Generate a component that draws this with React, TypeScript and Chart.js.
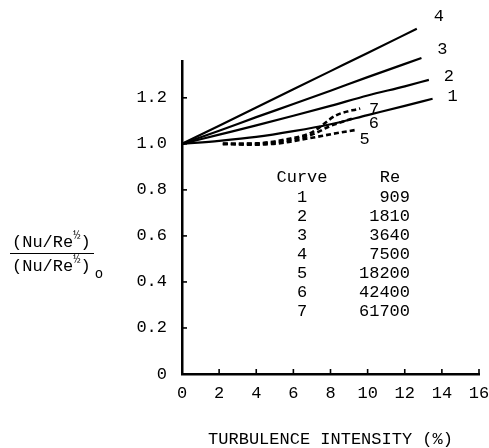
import { useEffect, useRef } from 'react';
import { Chart, registerables } from 'chart.js';

Chart.register(...registerables);

// Axis ticks
const X_TICKS = [0, 2, 4, 6, 8, 10, 12, 14, 16];
const Y_TICKS = [0, 0.2, 0.4, 0.6, 0.8, 1.0, 1.2];

// Curve key (table)
const CURVE_IDS = ['1', '2', '3', '4', '5', '6', '7'];
const RE_VALUES = ['909', '1810', '3640', '7500', '18200', '42400', '61700'];

// [turbulence intensity %, (Nu/Re^1/2)/(Nu/Re^1/2)o]
const CURVE_1 = [[0, 1.0], [2, 1.013], [4, 1.03], [6, 1.055], [8, 1.085], [10, 1.125], [12, 1.165], [13.5, 1.196]];
const CURVE_2 = [[0, 1.0], [2, 1.04], [4, 1.08], [6, 1.122], [8, 1.165], [10, 1.21], [12, 1.25], [13.3, 1.278]];
const CURVE_3 = [[0, 1.0], [2, 1.057], [4, 1.116], [6, 1.173], [8, 1.231], [10, 1.29], [12.9, 1.373]];
const CURVE_4 = [[0, 1.0], [2, 1.079], [4, 1.158], [6, 1.237], [8, 1.316], [10, 1.395], [12.65, 1.5]];
const CURVE_5 = [[2.2, 1.0], [3.8, 0.996], [5.3, 1.003], [6.9, 1.025], [8.3, 1.046], [9.4, 1.061]];
const CURVE_6 = [[2.2, 1.0], [4, 1.0], [5.5, 1.012], [7, 1.04], [8.0, 1.078], [9.2, 1.11]];
const CURVE_7 = [[2.2, 1.0], [4, 1.002], [5.5, 1.018], [7, 1.05], [8.3, 1.124], [9.6, 1.154]];

const FONT = '"Liberation Mono", "Courier New", monospace';

const toPoints = (pts: number[][]) => pts.map(([x, y]) => ({ x, y }));

// Offsets of each curve number from the curve's last point
const END_LABEL_OFFSETS: Record<string, [number, number]> = {
  '1': [20, -2],
  '2': [20, -3],
  '3': [21, -9],
  '4': [22, -12],
  '5': [8, 10],
  '6': [21, 5],
  '7': [14, 1],
};

const decorations = {
  id: 'decorations',
  afterDatasetsDraw(chart: any) {
    const { ctx } = chart;
    const xs = chart.scales.x;
    const ys = chart.scales.y;
    ctx.save();
    ctx.strokeStyle = '#000';
    ctx.lineWidth = 1.6;
    // inward tick marks
    xs.ticks.forEach((t: any) => {
      if (t.value === 0) return;
      const px = xs.getPixelForValue(t.value);
      ctx.beginPath();
      ctx.moveTo(px, ys.bottom);
      ctx.lineTo(px, ys.bottom - 5);
      ctx.stroke();
    });
    ys.ticks.forEach((t: any) => {
      if (t.value === 0) return;
      const py = ys.getPixelForValue(t.value);
      ctx.beginPath();
      ctx.moveTo(xs.left, py);
      ctx.lineTo(xs.left + 5, py);
      ctx.stroke();
    });
    // curve numbers at the line ends
    ctx.fillStyle = '#000';
    ctx.font = `17px ${FONT}`;
    ctx.textAlign = 'center';
    ctx.textBaseline = 'middle';
    chart.data.datasets.forEach((ds: any, i: number) => {
      const meta = chart.getDatasetMeta(i);
      const last = meta.data[meta.data.length - 1];
      const [dx, dy] = END_LABEL_OFFSETS[ds.label];
      ctx.fillText(ds.label, last.x + dx, last.y + dy);
    });
    ctx.restore();
  },
};

export default function App() {
  const canvasRef = useRef<HTMLCanvasElement | null>(null);

  useEffect(() => {
    if (!canvasRef.current) return;
    Chart.defaults.font.family = FONT;
    Chart.defaults.color = '#000';

    const solid = (label: string, pts: number[][]) => ({
      label,
      data: toPoints(pts),
      borderColor: '#000',
      borderWidth: 2.2,
      pointRadius: 0,
      cubicInterpolationMode: 'monotone' as const,
      clip: false as any,
    });
    const dashed = (label: string, pts: number[][]) => ({
      ...solid(label, pts),
      borderWidth: 2.6,
      borderDash: [5, 3],
    });

    const chart = new Chart(canvasRef.current, {
      type: 'line',
      data: {
        datasets: [
          solid('1', CURVE_1),
          solid('2', CURVE_2),
          solid('3', CURVE_3),
          solid('4', CURVE_4),
          dashed('5', CURVE_5),
          dashed('6', CURVE_6),
          dashed('7', CURVE_7),
        ],
      },
      options: {
        animation: false,
        responsive: false,
        maintainAspectRatio: false,
        layout: { padding: { top: 61, right: 0, left: 0, bottom: 0 } },
        plugins: { legend: { display: false }, tooltip: { enabled: false } },
        scales: {
          x: {
            type: 'linear',
            min: 0,
            max: 16,
            afterFit(s: any) {
              s.height = 74;
              s.paddingLeft = 0;
              s.paddingRight = 10;
            },
            afterBuildTicks(s: any) {
              s.ticks = X_TICKS.map((v) => ({ value: v }));
            },
            grid: { display: true, drawOnChartArea: false, drawTicks: false },
            border: { color: '#000', width: 2.5 },
            ticks: {
              color: '#000',
              padding: 9,
              font: { size: 17 },
              maxRotation: 0,
              autoSkip: false,
              callback: (v: any) => String(v),
            },
            title: {
              display: true,
              text: 'TURBULENCE INTENSITY (%)',
              color: '#000',
              font: { size: 17 },
              padding: { top: 0, bottom: -2 },
            },
          },
          y: {
            type: 'linear',
            min: 0,
            max: 1.36,
            afterFit(s: any) {
              s.width = 182;
            },
            afterBuildTicks(s: any) {
              s.ticks = Y_TICKS.map((v) => ({ value: v }));
            },
            grid: { display: true, drawOnChartArea: false, drawTicks: false },
            border: { color: '#000', width: 2.5 },
            ticks: {
              color: '#000',
              padding: 15,
              font: { size: 17 },
              autoSkip: false,
              callback: (v: any) => (v === 0 ? '0' : Number(v).toFixed(1)),
            },
          },
        },
      },
      plugins: [decorations],
    });
    return () => chart.destroy();
  }, []);

  const text: React.CSSProperties = {
    position: 'absolute',
    fontFamily: FONT,
    fontSize: 17,
    lineHeight: '19px',
    color: '#000',
    whiteSpace: 'nowrap',
  };
  const sup: React.CSSProperties = { fontSize: 12, position: 'relative', top: -8 };
  const sub: React.CSSProperties = { fontSize: 14, position: 'relative', top: 7, marginLeft: 4 };

  return (
    <div style={{ position: 'fixed', left: 0, top: 0, width: 489, height: 448, background: '#fff' }}>
      <canvas ref={canvasRef} width={489} height={448} style={{ display: 'block' }} />

      {/* y-axis quantity, written as a fraction */}
      <div style={{ ...text, left: 12, top: 233 }}>
        (Nu/Re<span style={sup}>½</span>)
      </div>
      <div style={{ position: 'absolute', left: 10, top: 253, width: 84, height: 0, borderTop: '1.5px solid #000' }} />
      <div style={{ ...text, left: 12, top: 257 }}>
        (Nu/Re<span style={sup}>½</span>)<span style={sub}>o</span>
      </div>

      {/* curve key */}
      <div style={{ ...text, left: 262, width: 80, textAlign: 'center', top: 168 }}>Curve</div>
      <div style={{ ...text, left: 370, width: 40, textAlign: 'center', top: 168 }}>Re</div>
      {CURVE_IDS.map((id, i) => (
        <div key={id}>
          <div style={{ ...text, left: 282, width: 40, textAlign: 'center', top: 188 + i * 19 }}>{id}</div>
          <div style={{ ...text, left: 330, width: 80, textAlign: 'right', top: 188 + i * 19 }}>{RE_VALUES[i]}</div>
        </div>
      ))}
    </div>
  );
}
